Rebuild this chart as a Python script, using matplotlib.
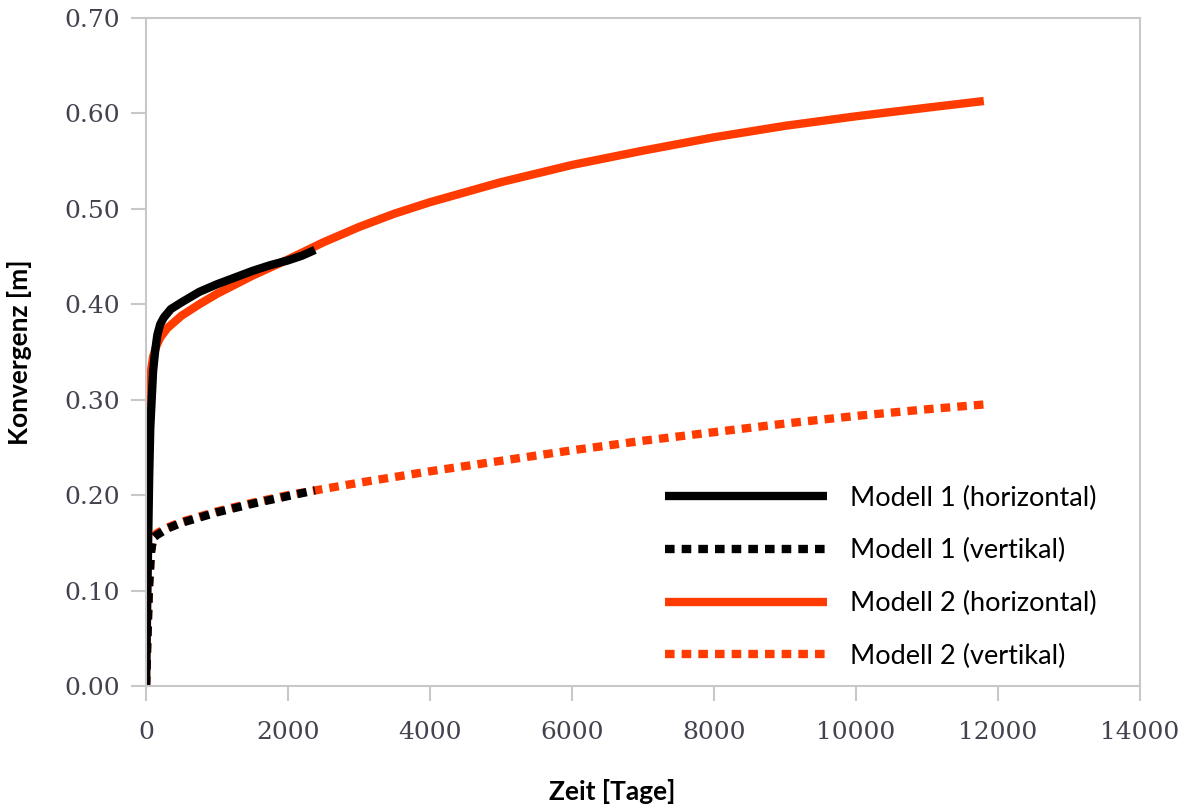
import matplotlib.pyplot as plt

# Modell 1 (horizontal)
t_m1_h = [0, 10, 20, 30, 45, 60, 80, 100, 130, 160, 200, 250, 350, 500, 750, 1000, 1250, 1500, 1750, 2000, 2200, 2380]
k_m1_h = [0.0, 0.05, 0.10, 0.15, 0.22, 0.27, 0.30, 0.33, 0.352, 0.368, 0.379, 0.386, 0.395, 0.402, 0.413, 0.421, 0.428, 0.435, 0.441, 0.446, 0.451, 0.457]

# Modell 1 (vertikal)
t_m1_v = [0, 20, 40, 70, 100, 150, 300, 500, 1000, 1500, 2000, 2380]
k_m1_v = [0.0, 0.05, 0.10, 0.14, 0.155, 0.158, 0.165, 0.171, 0.182, 0.191, 0.199, 0.205]

# Modell 2 (horizontal)
t_m2_h = [0, 5, 10, 20, 40, 70, 100, 150, 200, 300, 500, 750, 1000, 1500, 2000, 2500, 3000, 3500, 4000, 5000, 6000, 7000, 8000, 9000, 10000, 11000, 11800]
k_m2_h = [0.0, 0.08, 0.15, 0.24, 0.30, 0.33, 0.345, 0.357, 0.365, 0.375, 0.388, 0.400, 0.411, 0.430, 0.447, 0.465, 0.481, 0.495, 0.507, 0.528, 0.546, 0.561, 0.575, 0.587, 0.597, 0.606, 0.613]

# Modell 2 (vertikal)
t_m2_v = [0, 20, 40, 70, 100, 150, 300, 500, 1000, 1500, 2000, 3000, 4000, 5000, 6000, 7000, 8000, 9000, 10000, 11000, 11800]
k_m2_v = [0.0, 0.05, 0.10, 0.14, 0.155, 0.160, 0.166, 0.172, 0.183, 0.192, 0.200, 0.213, 0.225, 0.236, 0.247, 0.257, 0.266, 0.275, 0.283, 0.290, 0.295]

labels = ['Modell 1 (horizontal)', 'Modell 1 (vertikal)', 'Modell 2 (horizontal)', 'Modell 2 (vertikal)']

rot = '#FF3B00'
grau = '#C8C8C8'
lw = 6
punkte = (0, (1.15, 0.85))

fig = plt.figure(figsize=(11.88, 8.09), dpi=100)
ax = fig.add_axes([146 / 1188, 1 - 686 / 809, (1140 - 146) / 1188, (686 - 18) / 809])

# Modell 2 zuerst, damit Modell 1 darueber liegt
l3, = ax.plot(t_m2_h, k_m2_h, color=rot, lw=lw, solid_capstyle='butt')
l4, = ax.plot(t_m2_v, k_m2_v, color=rot, lw=lw, linestyle=punkte, dash_capstyle='butt')
l1, = ax.plot(t_m1_h, k_m1_h, color='black', lw=lw, solid_capstyle='butt')
l2, = ax.plot(t_m1_v, k_m1_v, color='black', lw=lw, linestyle=punkte, dash_capstyle='butt')

ax.set_xlim(0, 14000)
ax.set_ylim(0, 0.70)
ax.set_xticks(range(0, 14001, 2000))
ax.set_yticks([i / 10 for i in range(8)])
ax.set_yticklabels(['%.2f' % (i / 10) for i in range(8)])

for s in ax.spines.values():
    s.set_color(grau)
    s.set_linewidth(1.5)
ax.tick_params(direction='out', length=11, width=1.5, color=grau, labelcolor='#43434f',
               labelsize=18)
ax.tick_params(axis='y', pad=8)
ax.tick_params(axis='x', pad=14)
for lab in ax.get_xticklabels() + ax.get_yticklabels():
    lab.set_fontfamily('DejaVu Serif')

ax.set_xlabel('Zeit [Tage]', fontsize=19, fontweight='bold', fontfamily='Lato')
ax.set_ylabel('Konvergenz [m]', fontsize=19, fontweight='bold', fontfamily='Lato')
ax.xaxis.set_label_coords((612 - 146) / 994, -(779 - 686) / 668)
ax.yaxis.set_label_coords(-(146 - 32) / 994, 0.5)

leg = ax.legend([l1, l2, l3, l4], labels, loc='center left', bbox_to_anchor=(0.522, 0.163),
                frameon=False, borderpad=0, borderaxespad=0, handlelength=6.0,
                handletextpad=0.85, labelspacing=1.02, prop={'family': 'Lato', 'size': 19.5})

fig.savefig('out.png', dpi=100)
